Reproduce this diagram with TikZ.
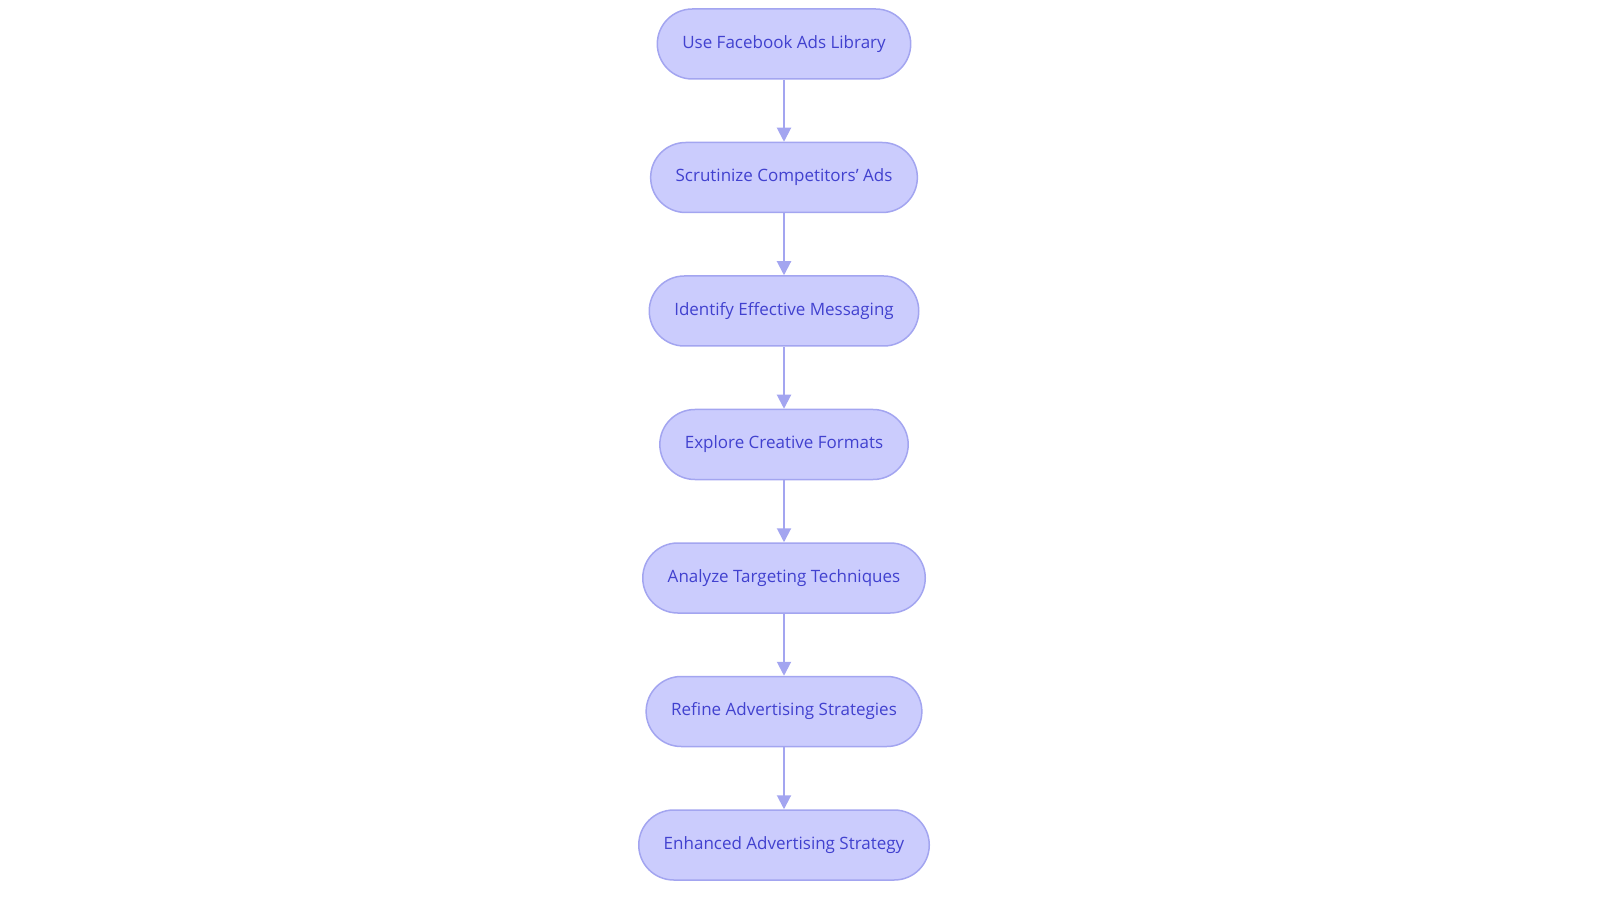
\documentclass[tikz,border=0pt]{standalone}
\usepackage{fontspec}
\setmainfont{Open Sans}
\usetikzlibrary{arrows.meta, positioning}
\definecolor{stepfill}{HTML}{CBCCFD}
\definecolor{stepline}{HTML}{A3A5F0}
\definecolor{steptext}{HTML}{4141CF}
\begin{document}
\begin{tikzpicture}[
            >={Triangle[width=7pt,length=7pt]},
                base/.style = {rectangle, rounded corners=17.5pt, draw=stepline,
                            line width=0.75pt, minimum height=35pt,
                            inner xsep=12.5pt, text centered},
                process/.style = {base, fill=stepfill, text=steptext,
                            font=\fontsize{8.5}{10}\selectfont},
                flow/.style = {->, draw=stepline, line width=1pt},
            node distance=31pt]
            \useasboundingbox (0,0) rectangle (800pt,-451.5pt);
            \node (UseLibrary) [process] at (392pt,-22pt) {Use Facebook Ads Library};
            \node (Scrutinize) [process, below=of UseLibrary] {Scrutinize Competitors' Ads};
            \node (Identify) [process, below=of Scrutinize] {Identify Effective Messaging};
            \node (Explore) [process, below=of Identify] {Explore Creative Formats};
            \node (Analyze) [process, below=of Explore] {Analyze Targeting Techniques};
            \node (Refine) [process, below=of Analyze] {Refine Advertising Strategies};
            \node (Enhanced) [process, below=of Refine] {Enhanced Advertising Strategy};
            \draw[flow] (UseLibrary) -- (Scrutinize);
            \draw[flow] (Scrutinize) -- (Identify);
            \draw[flow] (Identify) -- (Explore);
            \draw[flow] (Explore) -- (Analyze);
            \draw[flow] (Analyze) -- (Refine);
            \draw[flow] (Refine) -- (Enhanced);
        \end{tikzpicture}
\end{document}
